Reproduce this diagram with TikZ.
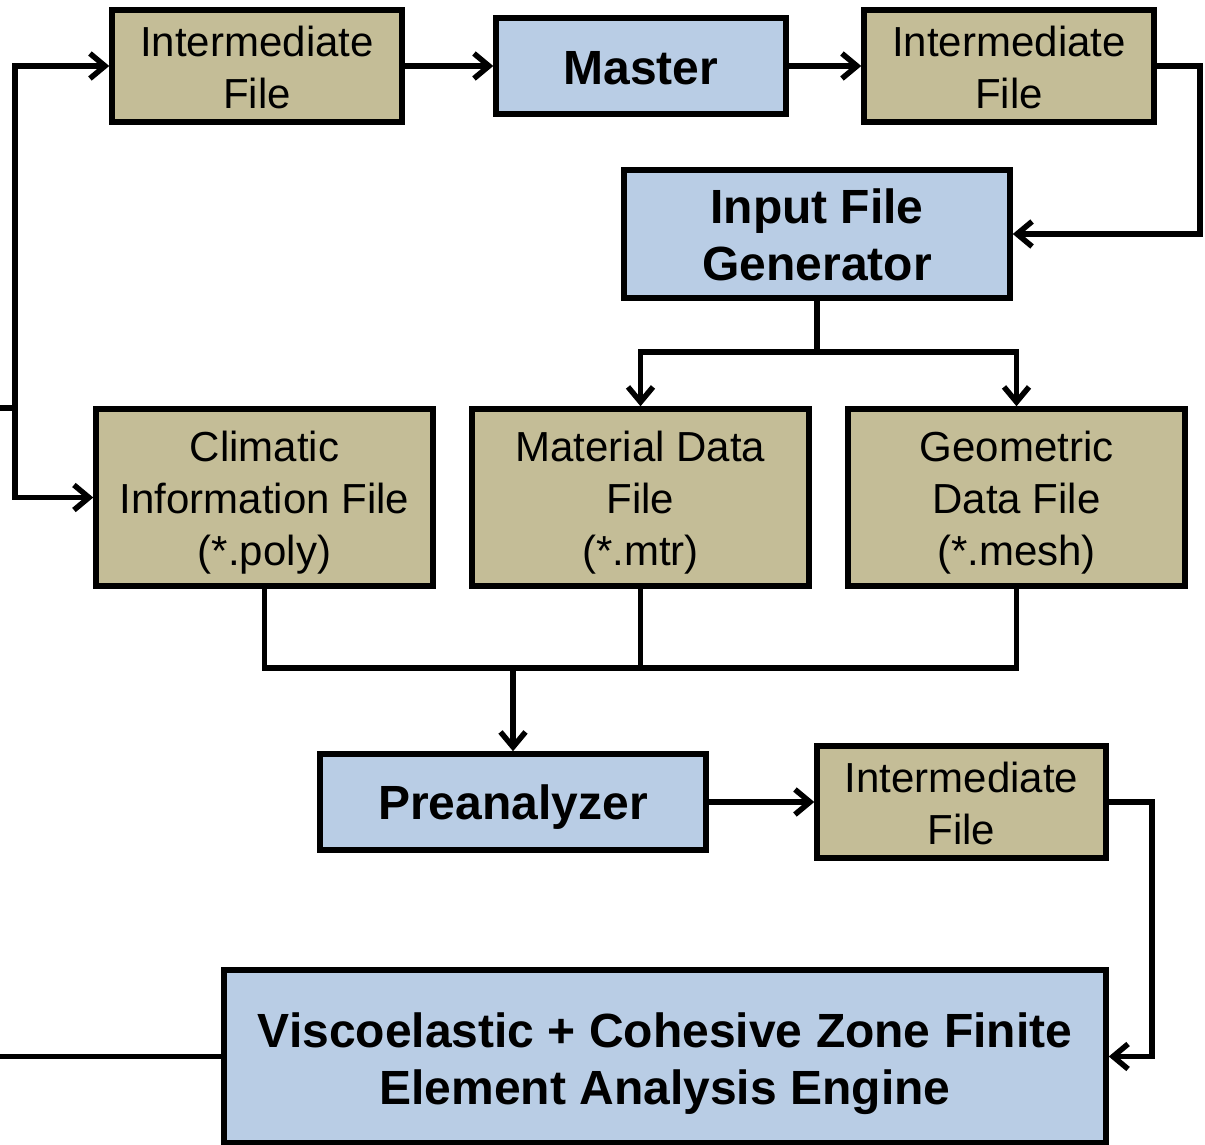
\documentclass[tikz,border=0pt]{standalone}
\usepackage{fontspec}
\setmainfont{Liberation Sans}
\usetikzlibrary{arrows.meta}
\definecolor{tanfill}{HTML}{C4BD97}
\definecolor{bluefill}{HTML}{B9CDE5}
\begin{document}
\begin{tikzpicture}[x=1pt,y=-1pt,
  box/.style={draw=black, line width=5.5pt, inner sep=0pt},
  tanbox/.style={box, fill=tanfill},
  bluebox/.style={box, fill=bluefill},
  lbl/.style={align=center, inner sep=0pt, text=black},
  tantext/.style={lbl, font=\fontsize{42}{52}\selectfont},
  bluetext/.style={lbl, font=\bfseries\fontsize{48}{57}\selectfont},
  conn/.style={line width=5.5pt, line join=miter},
  tip/.tip={Straight Barb[length=15pt,width=25pt,line width=5.5pt]},
  arr/.style={conn, -tip},
  darr/.style={conn, tip-tip}]
\useasboundingbox (0,0) rectangle (1205,1145);

\node[tanbox, minimum width=290pt, minimum height=112pt] (if1) at (257,66) {};
\node[bluebox, minimum width=290pt, minimum height=96pt] (master) at (641,66) {};
\node[tanbox, minimum width=290pt, minimum height=112pt] (if2) at (1009,66) {};
\node[bluebox, minimum width=386pt, minimum height=128pt] (ifg) at (817,234) {};
\node[tanbox, minimum width=337pt, minimum height=177pt] (clim) at (264.5,497.5) {};
\node[tanbox, minimum width=337pt, minimum height=177pt] (mat) at (640.5,497.5) {};
\node[tanbox, minimum width=337pt, minimum height=177pt] (geo) at (1016.5,497.5) {};
\node[bluebox, minimum width=386pt, minimum height=96pt] (pre) at (513,802) {};
\node[tanbox, minimum width=289pt, minimum height=112pt] (if3) at (961.5,802) {};
\node[bluebox, minimum width=882pt, minimum height=173pt] (eng) at (665,1056.5) {};

\node[tantext] (if1t) at ([yshift=-1pt]if1.center) {Intermediate\\File};
\node[bluetext] (mastert) at ([yshift=-2pt]master.center) {Master};
\node[tantext] (if2t) at ([yshift=-1pt]if2.center) {Intermediate\\File};
\node[bluetext] (ifgt) at ([yshift=-1pt]ifg.center) {Input File\\Generator};
\node[tantext] (climt) at ([yshift=-5pt]clim.center) {Climatic\\Information File\\(*.poly)};
\node[tantext] (matt) at ([yshift=-5pt]mat.center) {Material Data\\File\\(*.mtr)};
\node[tantext] (geot) at ([yshift=-5pt]geo.center) {Geometric\\Data File\\(*.mesh)};
\node[bluetext] (pret) at ([yshift=-5.5pt]pre.center) {Preanalyzer};
\node[tantext] (if3t) at ([yshift=-1pt]if3.center) {Intermediate\\File};
\node[bluetext] (engt) at ([yshift=-7pt]eng.center) {Viscoelastic + Cohesive Zone Finite\\Element Analysis Engine};

\coordinate (split) at (817,352);
\coordinate (merge) at (513,668);
\coordinate (in) at (0,408);
\coordinate (j) at (15,408);
\coordinate (out) at (0,1056.5);
\coordinate (r1) at (1200,66);
\coordinate (r2) at (1152,802);

\draw[arr] (if1.east) -- (master.west);
\draw[arr] (master.east) -- (if2.west);
\draw[arr] (if2.east) -- (r1) |- (ifg.east);
\draw[conn] (ifg.south) -- (split);
\draw[darr] (mat.north) |- (split) -| (geo.north);
\draw[conn] (clim.south) |- (merge) -| (geo.south);
\draw[conn] (mat.south) -- (mat.south |- merge);
\draw[arr] (merge) -- (pre.north);
\draw[arr] (pre.east) -- (if3.west);
\draw[arr] (if3.east) -- (r2) |- (eng.east);
\draw[conn] (eng.west) -- (out);
\draw[conn] (in) -- (j);
\draw[darr] (if1.west) -| (j) |- (clim.west);
\end{tikzpicture}
\end{document}
